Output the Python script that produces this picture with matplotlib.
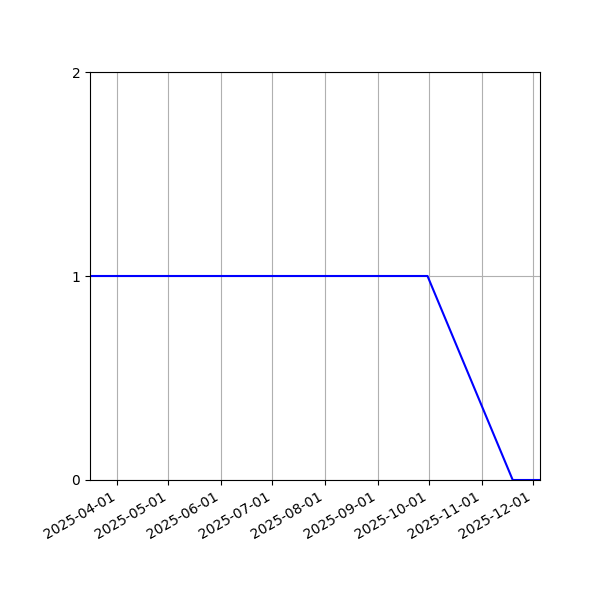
import matplotlib
matplotlib.use("Agg")
import matplotlib.pyplot as plt
import matplotlib.dates as mdates
import numpy as np

dates = np.array(["2025-03-16", "2025-09-30", "2025-11-19", "2025-12-05"], dtype="datetime64[D]")
values = [1, 1, 0, 0]
yticks = [0, 1, 2]

fig, ax = plt.subplots(figsize=(6, 6), dpi=100)
ax.plot(dates, values, color="blue")
ax.set_xlim(dates[0], dates[-1])
ax.set_ylim(0, 2)
ax.set_yticks(yticks)
ax.xaxis.set_major_locator(mdates.MonthLocator())
ax.xaxis.set_major_formatter(mdates.DateFormatter("%Y-%m-%d"))
ax.grid(True)
fig.autofmt_xdate()
fig.subplots_adjust(left=0.15, right=0.9, top=0.88, bottom=0.2)
fig.savefig("out.png")
